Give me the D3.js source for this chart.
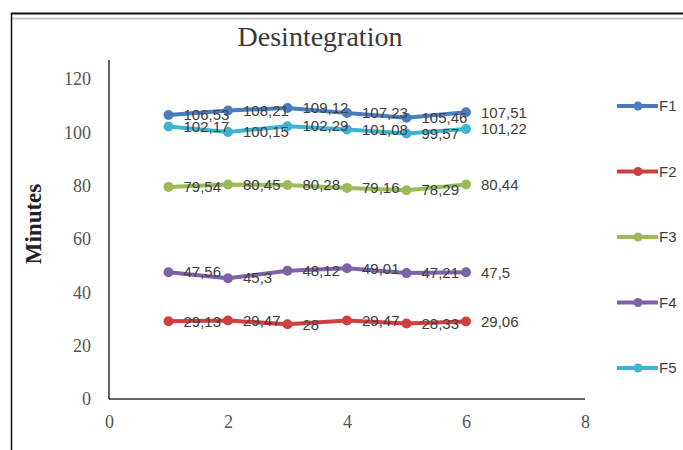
<!DOCTYPE html>
<html>
<head>
<meta charset="utf-8">
<script src="https://cdn.jsdelivr.net/npm/d3@7"></script>
<style>
  html, body { margin: 0; padding: 0; background: #fff; }
  svg { display: block; }
</style>
</head>
<body>
<svg id="chart" width="683" height="450"></svg>
<script>
// Disintegration time per formulation, six measurements each
const xPositions = [1, 2, 3, 4, 5, 6];
const seriesNames = ["F1", "F2", "F3", "F4", "F5"];
const f1 = [106.53, 108.21, 109.12, 107.23, 105.46, 107.51];
const f2 = [29.13, 29.47, 28, 29.47, 28.33, 29.06];
const f3 = [79.54, 80.45, 80.28, 79.16, 78.29, 80.44];
const f4 = [47.56, 45.3, 48.12, 49.01, 47.21, 47.5];
const f5 = [102.17, 100.15, 102.29, 101.08, 99.57, 101.22];
const xTicks = [0, 2, 4, 6, 8];
const yTicks = [0, 20, 40, 60, 80, 100, 120];
const seriesColors = ["#4a7cc0", "#cf3f3f", "#9bbb59", "#7e62a8", "#3db4d2"];

const seriesValues = [f1, f2, f3, f4, f5];
const series = seriesNames.map((name, i) => ({
  name,
  color: seriesColors[i],
  points: xPositions.map((x, j) => ({ x, y: seriesValues[i][j] }))
}));

const svg = d3.select("#chart");

// Outer frame
svg.append("line").attr("x1", 11).attr("x2", 683).attr("y1", 13.5).attr("y2", 13.5)
  .attr("stroke", "#111").attr("stroke-width", 2);
svg.append("line").attr("x1", 12).attr("x2", 683).attr("y1", 18.5).attr("y2", 18.5)
  .attr("stroke", "#c8c8c8").attr("stroke-width", 2);
svg.append("line").attr("x1", 11.5).attr("x2", 11.5).attr("y1", 13).attr("y2", 450)
  .attr("stroke", "#111").attr("stroke-width", 1.5);

const x = d3.scaleLinear().domain([0, 8]).range([109, 585]);
const y = d3.scaleLinear().domain([0, 120]).range([399, 79]);

// Title
svg.append("text")
  .attr("x", 320).attr("y", 46)
  .attr("text-anchor", "middle")
  .attr("font-family", "Liberation Serif, Times New Roman, serif")
  .attr("font-size", 28)
  .attr("fill", "#3a3a3a")
  .text("Desintegration");

// Axes
const serif = "Liberation Serif, Times New Roman, serif";
const yAxis = svg.append("g")
  .attr("transform", `translate(${x(0)},0)`)
  .call(d3.axisLeft(y).tickValues(yTicks).tickSize(0).tickPadding(18));
yAxis.select(".domain").remove();
yAxis.selectAll("text")
  .attr("font-family", serif).attr("font-size", 18).attr("fill", "#555");

const xAxis = svg.append("g")
  .attr("transform", `translate(0,${y(0)})`)
  .call(d3.axisBottom(x).tickValues(xTicks).tickSize(0).tickPadding(16));
xAxis.select(".domain").remove();
xAxis.selectAll("text")
  .attr("font-family", serif).attr("font-size", 18).attr("fill", "#555");

svg.append("line")
  .attr("x1", x(0)).attr("x2", x(0)).attr("y1", 60).attr("y2", y(0))
  .attr("stroke", "#333").attr("stroke-width", 1.5);
svg.append("line")
  .attr("x1", x(0)).attr("x2", x(8)).attr("y1", y(0)).attr("y2", y(0))
  .attr("stroke", "#333").attr("stroke-width", 1.5);

// Y axis title
svg.append("text")
  .attr("transform", "translate(41,224) rotate(-90)")
  .attr("text-anchor", "middle")
  .attr("font-family", serif)
  .attr("font-weight", "bold")
  .attr("font-size", 23)
  .attr("fill", "#222")
  .text("Minutes");

// Lines and markers
const line = d3.line().x(d => x(d.x)).y(d => y(d.y));
const seriesG = svg.append("g");
series.forEach(s => {
  seriesG.append("path")
    .datum(s.points)
    .attr("d", line)
    .attr("fill", "none")
    .attr("stroke", s.color)
    .attr("stroke-width", 4)
    .attr("stroke-linejoin", "round");
  seriesG.selectAll(null)
    .data(s.points)
    .enter().append("circle")
    .attr("cx", d => x(d.x))
    .attr("cy", d => y(d.y))
    .attr("r", 5)
    .attr("fill", s.color);
});

// Data labels to the right of each point
const fmt = v => String(v).replace(".", ",");
const labelG = svg.append("g");
series.forEach(s => {
  labelG.selectAll(null)
    .data(s.points)
    .enter().append("text")
    .attr("x", d => x(d.x) + 15)
    .attr("y", d => y(d.y))
    .attr("dy", "0.35em")
    .attr("font-family", "Liberation Sans, Arial, sans-serif")
    .attr("font-size", 15)
    .attr("fill", "#404040")
    .text(d => fmt(d.y));
});

// Legend
const legend = svg.append("g");
series.forEach((s, i) => {
  const ly = 106 + i * 65.5;
  legend.append("line")
    .attr("x1", 617).attr("x2", 658).attr("y1", ly).attr("y2", ly)
    .attr("stroke", s.color).attr("stroke-width", 4);
  legend.append("circle")
    .attr("cx", 638).attr("cy", ly).attr("r", 4.5).attr("fill", s.color);
  legend.append("text")
    .attr("x", 659).attr("y", ly).attr("dy", "0.35em")
    .attr("font-family", "Liberation Sans, Arial, sans-serif")
    .attr("font-size", 15)
    .attr("fill", "#404040")
    .text(s.name);
});
</script>
</body>
</html>
